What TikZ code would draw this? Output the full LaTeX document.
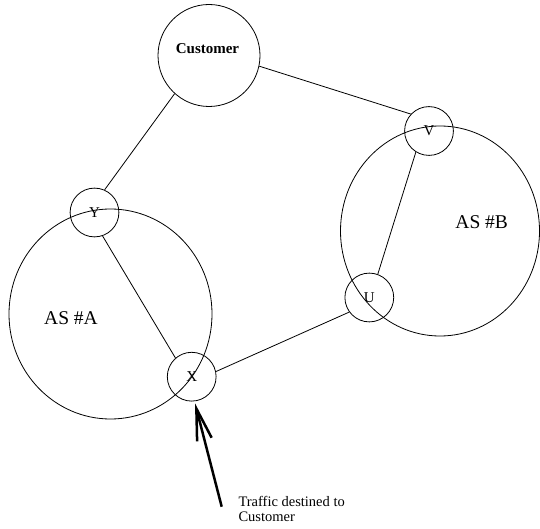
\documentclass[tikz,border=0pt]{standalone}
\usepackage{fontspec}
\setmainfont{Liberation Serif}
\usetikzlibrary{arrows.meta,shapes.geometric}
\begin{document}
\begin{tikzpicture}[x=1pt,y=-1pt,
  conn/.style={line width=0.8pt},
  router/.style={circle,draw,line width=0.8pt,minimum size=48.8pt,inner sep=0pt,
    font=\fontsize{15}{15}\selectfont},
  asbox/.style={ellipse,draw,line width=0.8pt,inner sep=0pt},
  asname/.style={inner sep=0pt,font=\fontsize{19.5}{20}\selectfont},
  note/.style={inner sep=0pt,align=left,font=\fontsize{14.5}{15}\selectfont}]
\useasboundingbox (0,0) rectangle (540,529);
% autonomous systems
\node[asbox,minimum width=203pt,minimum height=210pt] (asA) at (110.5,314) {};
\node[asbox,minimum width=199pt,minimum height=210pt] (asB) at (440,231) {};
\node[asname] (asAlbl) at (71,318.3) {AS \#A};
\node[asname] (asBlbl) at (481.7,221.7) {AS \#B};
% customer
\node[circle,draw,line width=0.8pt,minimum size=102pt,inner sep=0pt] (cust) at (209,55.5) {};
\node[inner sep=0pt,font=\bfseries\fontsize{15}{15}\selectfont] (custlbl) at (207.5,48.3) {Customer};
% routers
\node[router] (V) at (429,131) {V};
\node[router] (U) at (369.3,297.5) {U};
\node[router] (Y) at (94.5,212.5) {Y};
\node[router] (X) at (191.7,376.7) {X};
% links
\draw[conn] (cust.228) -- (Y.66);
\draw[conn] (cust.348) -- (V.137);
\draw[conn] (V.238) -- (U.70);
\draw[conn] (Y.289) -- (X.131);
\draw[conn] (X.12) -- (U.216);
% traffic arrow
\coordinate (tail) at (221.7,506.7);
\coordinate (tip) at (195,403.3);
\draw[line width=2.5pt,-{Straight Barb[length=32pt,width=15pt]}] (tail) -- (tip);
\node[note,anchor=north west] (traffic) at (238.3,496) {Traffic destined to\\Customer};
\end{tikzpicture}
\end{document}
